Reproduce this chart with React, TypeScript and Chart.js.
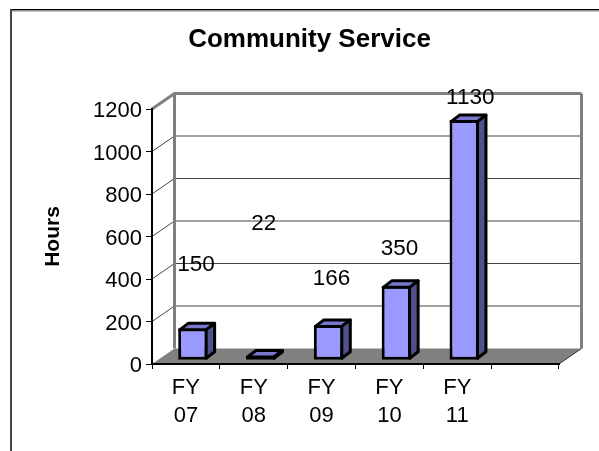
import React, { useEffect, useRef } from "react";
import { Chart, registerables } from "chart.js";

Chart.register(...registerables);

const categories = [["FY", "07"], ["FY", "08"], ["FY", "09"], ["FY", "10"], ["FY", "11"], ""];
const hours = [150, 22, 166, 350, 1130, null];
const chartTitle = "Community Service";
const yTitle = "Hours";

const FONT = "'Liberation Sans', Arial, sans-serif";
const wall = { dx: 22.5, dy: -15.5 };
const barShift = { dx: 7, dy: -3.8 };
const barDepth = { dx: 8.5, dy: -6.5 };
// label offset from the top-centre of each bar's front face, as they sit in the picture
const labelLift = [{ dx: 3, dy: 64 }, { dx: 3, dy: 132 }, { dx: 3, dy: 46 }, { dx: 3, dy: 37 }, { dx: 6, dy: 22 }];

const scene3d = {
  id: "scene3d",
  afterLayout(chart: any) {
    const t = chart.titleBlock;
    if (t) { t.left = 20; t.right = 599; }
  },
  beforeDraw(chart: any) {
    const { ctx, chartArea: a, scales } = chart;
    const y = scales.y;
    ctx.save();
    // outer frame
    ctx.strokeStyle = "#000";
    ctx.lineWidth = 1.5;
    ctx.beginPath();
    ctx.moveTo(10, 9.75);
    ctx.lineTo(599, 9.75);
    ctx.stroke();
    ctx.strokeStyle = "#999";
    ctx.lineWidth = 1;
    ctx.beginPath();
    ctx.moveTo(10, 11);
    ctx.lineTo(599, 11);
    ctx.stroke();
    ctx.strokeStyle = "#444";
    ctx.lineWidth = 2;
    ctx.beginPath();
    ctx.moveTo(11, 9);
    ctx.lineTo(11, 451);
    ctx.stroke();
    // floor
    ctx.fillStyle = "#808080";
    ctx.beginPath();
    ctx.moveTo(a.left, a.bottom);
    ctx.lineTo(a.left + wall.dx, a.bottom + wall.dy);
    ctx.lineTo(a.right + wall.dx, a.bottom + wall.dy);
    ctx.lineTo(a.right, a.bottom);
    ctx.closePath();
    ctx.fill();
    // gridlines
    for (const t of y.ticks) {
      if (t.value === 0) continue;
      const py = y.getPixelForValue(t.value);
      const top = t.value === y.max;
      ctx.strokeStyle = top ? "#808080" : "#444";
      ctx.lineWidth = top ? 3 : 1;
      ctx.beginPath();
      ctx.moveTo(a.left, py);
      ctx.lineTo(a.left + wall.dx, py + wall.dy);
      ctx.lineTo(a.right + wall.dx, py + wall.dy);
      ctx.stroke();
    }
    // wall edges
    ctx.strokeStyle = "#808080";
    ctx.lineWidth = 3;
    ctx.beginPath();
    ctx.moveTo(a.left + wall.dx, a.bottom + wall.dy);
    ctx.lineTo(a.left + wall.dx, a.top + wall.dy);
    ctx.moveTo(a.right + wall.dx, a.top + wall.dy);
    ctx.lineTo(a.right + wall.dx, a.bottom + wall.dy);
    ctx.stroke();
    // floor diagonals
    ctx.strokeStyle = "#333";
    ctx.lineWidth = 1;
    ctx.beginPath();
    ctx.moveTo(a.right, a.bottom);
    ctx.lineTo(a.right + wall.dx, a.bottom + wall.dy);
    ctx.stroke();
    ctx.restore();
  },
  beforeDatasetsDraw(chart: any) {
    chart.ctx.save();
    chart.ctx.translate(barShift.dx, barShift.dy);
  },
  afterDatasetsDraw(chart: any) {
    const { ctx } = chart;
    const meta = chart.getDatasetMeta(0);
    ctx.lineWidth = 3;
    ctx.strokeStyle = "#000";
    ctx.lineJoin = "round";
    meta.data.forEach((bar: any, i: number) => {
      if (hours[i] == null) return;
      const b = 1.5;
      const l = bar.x - bar.width / 2 + b;
      const r = bar.x + bar.width / 2 - b;
      const t = bar.y + b;
      const bt = bar.base - b;
      ctx.fillStyle = "#7777CC";
      ctx.beginPath();
      ctx.moveTo(l, t);
      ctx.lineTo(l + barDepth.dx, t + barDepth.dy);
      ctx.lineTo(r + barDepth.dx, t + barDepth.dy);
      ctx.lineTo(r, t);
      ctx.closePath();
      ctx.fill();
      ctx.stroke();
      ctx.fillStyle = "#50508A";
      ctx.beginPath();
      ctx.moveTo(r, t);
      ctx.lineTo(r + barDepth.dx, t + barDepth.dy);
      ctx.lineTo(r + barDepth.dx, bt + barDepth.dy);
      ctx.lineTo(r, bt);
      ctx.closePath();
      ctx.fill();
      ctx.stroke();
    });
    ctx.restore();
    // value labels
    ctx.save();
    ctx.font = `22.5px ${FONT}`;
    ctx.fillStyle = "#000";
    ctx.textAlign = "center";
    ctx.textBaseline = "middle";
    meta.data.forEach((bar: any, i: number) => {
      if (hours[i] == null) return;
      const lift = labelLift[i];
      ctx.fillText(String(hours[i]), bar.x + barShift.dx + lift.dx, bar.y + barShift.dy - lift.dy);
    });
    ctx.restore();
  },
};

export default function App() {
  const ref = useRef<HTMLCanvasElement | null>(null);
  useEffect(() => {
    document.body.style.margin = "0";
    const chart = new Chart(ref.current as HTMLCanvasElement, {
      type: "bar",
      data: {
        labels: categories as any,
        datasets: [
          {
            label: yTitle,
            data: hours as any,
            backgroundColor: "#9999FF",
            borderColor: "#000",
            borderWidth: 3,
            borderSkipped: false,
            barPercentage: 0.434,
            categoryPercentage: 1,
            clip: false as any,
          },
        ],
      },
      options: {
        responsive: false,
        animation: false,
        layout: { padding: { left: 0, right: 40, top: 0, bottom: 0 } },
        plugins: {
          legend: { display: false },
          tooltip: { enabled: false },
          title: {
            display: true,
            text: chartTitle,
            color: "#000",
            font: { family: FONT, size: 26, weight: "bold", lineHeight: "25px" },
            padding: { top: 27, bottom: 57 },
          },
        },
        scales: {
          x: {
            afterFit(s: any) { s.height = 87; },
            border: { color: "#000", width: 2 },
            grid: { drawOnChartArea: false, drawTicks: true, tickLength: 5, color: "#000", offset: true },
            ticks: { color: "#000", font: { family: FONT, size: 22, lineHeight: "28px" }, padding: 5, maxRotation: 0, autoSkip: false },
          },
          y: {
            min: 0,
            max: 1200,
            afterFit(s: any) { s.width = 152; },
            border: { color: "#000", width: 2 },
            grid: { drawOnChartArea: false, drawTicks: true, tickLength: 6, color: "#000" },
            ticks: { stepSize: 200, color: "#000", font: { family: FONT, size: 22 }, padding: 4, labelOffset: 2, callback: (v: any) => String(v) },
            title: {
              display: true,
              text: yTitle,
              color: "#000",
              font: { family: FONT, size: 21, weight: "bold", lineHeight: "20px" },
              padding: { top: 43, bottom: 0 },
            },
          },
        },
      },
      plugins: [scene3d],
    });
    return () => chart.destroy();
  }, []);
  return <canvas ref={ref} width={599} height={451} style={{ display: "block" }} />;
}
